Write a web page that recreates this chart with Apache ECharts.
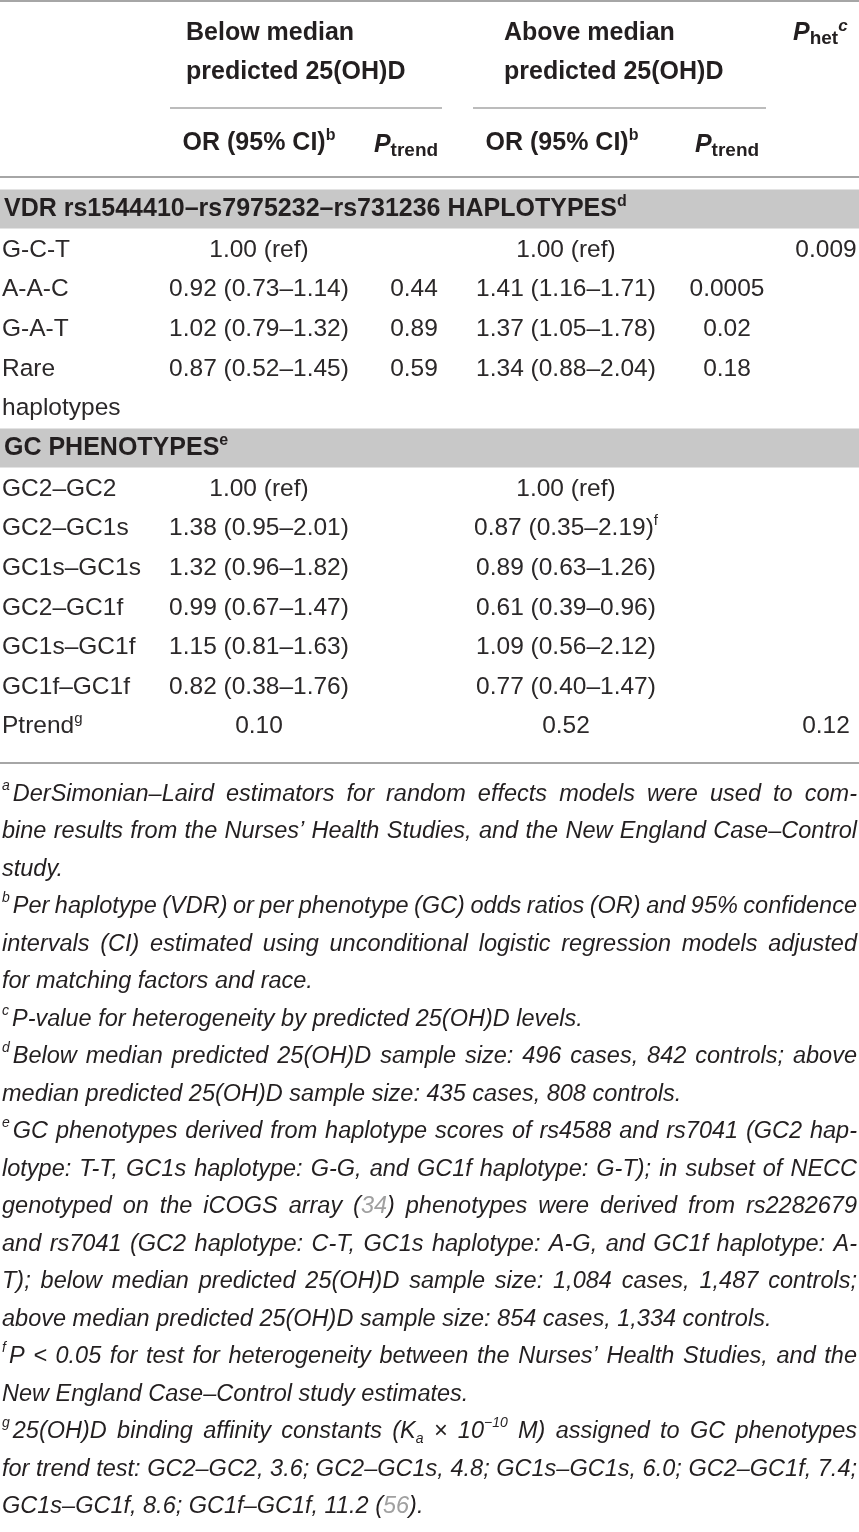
<!DOCTYPE html>
<html>
<head>
<meta charset="utf-8">
<script src="https://cdn.jsdelivr.net/npm/echarts@6.0.0/dist/echarts.min.js"></script>
<style>
  html, body { margin: 0; padding: 0; background: #fff; }
  #main { width: 859px; height: 1532px; }
</style>
</head>
<body>
<div id="main"></div>
<script>
// table content
const haploLabels = ['G-C-T', 'A-A-C', 'G-A-T', 'Rare'];
const haploBelowOR = ['1.00 (ref)', '0.92 (0.73–1.14)', '1.02 (0.79–1.32)', '0.87 (0.52–1.45)'];
const haploBelowP = ['', '0.44', '0.89', '0.59'];
const haploAboveOR = ['1.00 (ref)', '1.41 (1.16–1.71)', '1.37 (1.05–1.78)', '1.34 (0.88–2.04)'];
const haploAboveP = ['', '0.0005', '0.02', '0.18'];
const haploPhet = ['0.009', '', '', ''];

const gcLabels = ['GC2–GC2', 'GC2–GC1s', 'GC1s–GC1s', 'GC2–GC1f', 'GC1s–GC1f', 'GC1f–GC1f', 'Ptrend{rsup|g}'];
const gcBelowOR = ['1.00 (ref)', '1.38 (0.95–2.01)', '1.32 (0.96–1.82)', '0.99 (0.67–1.47)', '1.15 (0.81–1.63)', '0.82 (0.38–1.76)', '0.10'];
const gcAboveOR = ['1.00 (ref)', '0.87 (0.35–2.19){rsup|f}', '0.89 (0.63–1.26)', '0.61 (0.39–0.96)', '1.09 (0.56–2.12)', '0.77 (0.40–1.47)', '0.52'];
const gcPhet = ['', '', '', '', '', '', '0.12'];

const groupTitles = [['Below median', 'predicted 25(OH)D'], ['Above median', 'predicted 25(OH)D']];
const bandTitles = ['VDR rs1544410–rs7975232–rs731236 HAPLOTYPES{bsup|d}', 'GC PHENOTYPES{bsup|e}'];

// footnotes, one array of printed lines per note
const footA = [
  '{nsup|a}DerSimonian–Laird estimators for random effects models were used to com-',
  'bine results from the Nurses’ Health Studies, and the New England Case–Control',
  'study.'
];
const footB = [
  '{nsup|b}Per haplotype (VDR) or per phenotype (GC) odds ratios (OR) and 95% confidence',
  'intervals (CI) estimated using unconditional logistic regression models adjusted',
  'for matching factors and race.'
];
const footC = ['{nsup|c}P-value for heterogeneity by predicted 25(OH)D levels.'];
const footD = [
  '{nsup|d}Below median predicted 25(OH)D sample size: 496 cases, 842 controls; above',
  'median predicted 25(OH)D sample size: 435 cases, 808 controls.'
];
const footE = [
  '{nsup|e}GC phenotypes derived from haplotype scores of rs4588 and rs7041 (GC2 hap-',
  'lotype: T-T, GC1s haplotype: G-G, and GC1f haplotype: G-T); in subset of NECC',
  'genotyped on the iCOGS array ({link|34}) phenotypes were derived from rs2282679',
  'and rs7041 (GC2 haplotype: C-T, GC1s haplotype: A-G, and GC1f haplotype: A-',
  'T); below median predicted 25(OH)D sample size: 1,084 cases, 1,487 controls;',
  'above median predicted 25(OH)D sample size: 854 cases, 1,334 controls.'
];
const footF = [
  '{nsup|f}P < 0.05 for test for heterogeneity between the Nurses’ Health Studies, and the',
  'New England Case–Control study estimates.'
];
const footG = [
  '{nsup|g}25(OH)D binding affinity constants (K{isub|a} × 10{isup|−10} M) assigned to GC phenotypes',
  'for trend test: GC2–GC2, 3.6; GC2–GC1s, 4.8; GC1s–GC1s, 6.0; GC2–GC1f, 7.4;',
  'GC1s–GC1f, 8.6; GC1f–GC1f, 11.2 ({link|56}).'
];
const footnotes = [footA, footB, footC, footD, footE, footF, footG];

// layout
const W = 859;
const INK = '#231f20';
const BODY = '#2b2829';
const RULE = '#a6a6a6';
const BAND = '#c8c8c8';
const FONT = '"Liberation Sans", Arial, sans-serif';
const colX = { label: 2, belowOR: 259, belowP: 414, aboveOR: 566, aboveP: 727, phet: 826 };
const groupLeft = [186, 504];
const groupRule = [[170, 442], [473, 766]];
const haploTop = 250, gcTop = 489, rowPitch = 39.6;
const bandY = [209, 448];
const footTop = 794, footPitch = 37.5, footLeft = 2, footRight = 857;

function ts(size, extra) {
  return Object.assign({
    fontFamily: FONT, fontSize: size, fontWeight: 'normal', fontStyle: 'normal',
    fill: INK, lineHeight: 30
  }, extra || {});
}
const RICH = {
  r: ts(24.5, { fill: BODY }),
  rsup: ts(15, { fill: BODY, verticalAlign: 'top', lineHeight: 15 }),
  b: ts(25, { fontWeight: 'bold' }),
  bi: ts(25, { fontWeight: 'bold', fontStyle: 'italic' }),
  bsup: ts(16, { fontWeight: 'bold', verticalAlign: 'top', lineHeight: 16 }),
  bisup: ts(17, { fontWeight: 'bold', fontStyle: 'italic', verticalAlign: 'top', lineHeight: 14 }),
  bsub: ts(19, { fontWeight: 'bold', verticalAlign: 'bottom', lineHeight: 15 }),
  i: ts(23.5, { fontStyle: 'italic' }),
  nsup: ts(14, { fontStyle: 'italic', verticalAlign: 'top', lineHeight: 16, padding: [0, 3, 0, 0] }),
  isup: ts(14, { fontStyle: 'italic', verticalAlign: 'top', lineHeight: 16 }),
  isub: ts(14, { fontStyle: 'italic', verticalAlign: 'bottom', lineHeight: 14 }),
  link: ts(23.5, { fontStyle: 'italic', fill: '#a0a0a0' })
};

// wrap plain runs of text into a rich style
function wrap(s, name) {
  return s.replace(/(^|\})([^{}]+)(?=\{|$)/g, (m, pre, txt) => pre + '{' + name + '|' + txt + '}');
}

const elements = [];
function text(x, y, s, name, align) {
  if (!s) return;
  elements.push({
    type: 'text', x: x, y: y, silent: true,
    style: { text: wrap(s, name), rich: RICH, align: align || 'center', verticalAlign: 'middle' }
  });
}
function hline(x1, x2, y, w) {
  elements.push({
    type: 'line', silent: true,
    shape: { x1: x1, y1: y, x2: x2, y2: y },
    style: { stroke: RULE, lineWidth: w || 2 }
  });
}
function band(yc) {
  elements.push({
    type: 'rect', silent: true,
    shape: { x: 0, y: yc - 19.5, width: W, height: 39 },
    style: { fill: BAND }
  });
}

// header
hline(0, W, 1);
groupTitles.forEach((lines, g) => {
  text(groupLeft[g], 33, lines[0], 'b', 'left');
  text(groupLeft[g], 72, lines[1], 'b', 'left');
  hline(groupRule[g][0], groupRule[g][1], 108, 1.5);
});
text(793, 33, '{bi|P}{bsub|het}{bisup|c}', 'b', 'left');
text(colX.belowOR, 143, 'OR (95% CI){bsup|b}', 'b');
text(colX.aboveOR - 4, 143, 'OR (95% CI){bsup|b}', 'b');
text(colX.belowP - 8, 145, '{bi|P}{bsub|trend}', 'b');
text(colX.aboveP, 145, '{bi|P}{bsub|trend}', 'b');
hline(0, W, 177);

// VDR haplotypes
band(bandY[0]);
text(4, bandY[0], bandTitles[0], 'b', 'left');
haploLabels.forEach((lab, i) => {
  const y = haploTop + i * rowPitch;
  text(colX.label, y, lab, 'r', 'left');
  text(colX.belowOR, y, haploBelowOR[i], 'r');
  text(colX.belowP, y, haploBelowP[i], 'r');
  text(colX.aboveOR, y, haploAboveOR[i], 'r');
  text(colX.aboveP, y, haploAboveP[i], 'r');
  text(colX.phet, y, haploPhet[i], 'r');
});
text(colX.label, haploTop + haploLabels.length * rowPitch, 'haplotypes', 'r', 'left');

// GC phenotypes
band(bandY[1]);
text(4, bandY[1], bandTitles[1], 'b', 'left');
gcLabels.forEach((lab, i) => {
  const y = gcTop + i * rowPitch;
  text(colX.label, y, lab, 'r', 'left');
  text(colX.belowOR, y, gcBelowOR[i], 'r');
  text(colX.aboveOR, y, gcAboveOR[i], 'r');
  text(colX.phet, y, gcPhet[i], 'r');
});
hline(0, W, 763);

// footnotes, justified word by word
function measure(s) {
  const t = new echarts.graphic.Text({ style: { text: wrap(s, 'i'), rich: RICH } });
  return t.getBoundingRect().width;
}
const spaceW = RICH.i.fontSize * 0.278;
let lineNo = 0;
footnotes.forEach(note => {
  note.forEach((line, k) => {
    const y = footTop + lineNo * footPitch;
    const words = line.split(' ');
    const widths = words.map(measure);
    const total = widths.reduce((a, b) => a + b, 0);
    const justify = k < note.length - 1 && words.length > 1;
    const gap = justify ? (footRight - footLeft - total) / (words.length - 1) : spaceW;
    let x = footLeft;
    words.forEach((w, j) => {
      text(x, y, w, 'i', 'left');
      x += widths[j] + gap;
    });
    lineNo++;
  });
});

const chart = echarts.init(document.getElementById('main'), null, { renderer: 'canvas' });
chart.setOption({
  backgroundColor: '#fff',
  animation: false,
  graphic: { elements: elements }
});
</script>
</body>
</html>
